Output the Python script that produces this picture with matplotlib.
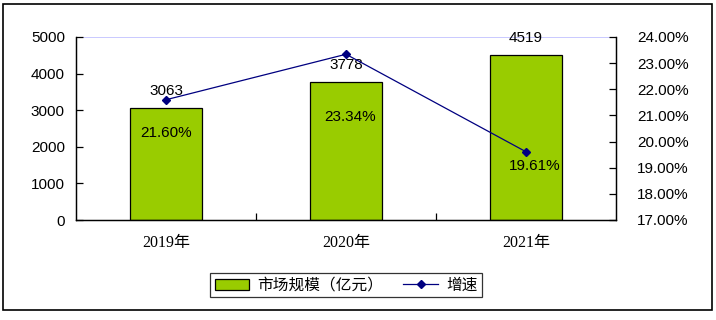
import matplotlib
matplotlib.use('Agg')
import matplotlib.pyplot as plt
from matplotlib.patches import Rectangle
import numpy as np

plt.rcParams['font.family'] = ['Liberation Sans', 'Noto Sans CJK SC']

years = ["2019年", "2020年", "2021年"]
market = [3063, 3778, 4519]
growth = [21.60, 23.34, 19.61]

# label offsets (points) for the growth labels, as placed in the original
growth_offsets = [(0, -24), (3, -45), (6, -10)]

fig = plt.figure(figsize=(7.16, 3.2), dpi=100)
ax = fig.add_axes([76 / 716, 100 / 320, 540 / 716, 183 / 320])
ax2 = ax.twinx()

x = np.arange(len(years))
bars = ax.bar(x, market, width=0.4, color='#99CC00', edgecolor='black', lw=0.9,
              label="市场规模（亿元）", zorder=2)
ax.set_xlim(-0.5, 2.5)
ax.set_ylim(0, 5000)
ax.set_yticks(np.arange(0, 5001, 1000))
ax.axhline(5000, color='#C0C0FF', lw=1.2, zorder=1)
ax.set_xticks(x)
ax.set_xticklabels(years, family=['Liberation Serif', 'Noto Sans CJK SC'], fontsize=11.5)
ax.set_xticks([0.5, 1.5], minor=True)
ax.tick_params(axis='x', which='major', length=0, pad=11)
ax.tick_params(axis='x', which='minor', direction='in', length=5, width=0.9)
ax.tick_params(axis='y', direction='in', length=5, width=0.9, labelsize=11, pad=8)

for xi, v in zip(x, market):
    ax.annotate(str(v), (xi, v), xytext=(0, 12), textcoords='offset points',
                ha='center', va='center', fontsize=11)

line, = ax2.plot(x, growth, color='#000080', lw=0.9, marker='D', ms=4.5,
                 label="增速", zorder=3)
ax2.set_ylim(17, 24)
ax2.set_yticks(np.arange(17, 24.01, 1))
ax2.set_yticklabels(["%.2f%%" % t for t in np.arange(17, 24.01, 1)])
ax2.tick_params(axis='y', direction='in', length=5, width=0.9, labelsize=11, pad=15)

for xi, g, off in zip(x, growth, growth_offsets):
    ax2.annotate("%.2f%%" % g, (xi, g), xytext=off, textcoords='offset points',
                 ha='center', va='center', fontsize=11)

for a in (ax, ax2):
    a.spines['top'].set_visible(False)
    for s in ('left', 'right', 'bottom'):
        a.spines[s].set_linewidth(0.9)

leg = fig.legend(handles=[bars, line], loc='center', bbox_to_anchor=(346 / 716, 35 / 320),
                 ncol=2, frameon=True, fancybox=False, edgecolor='black', fontsize=11.3,
                 handlelength=2.2, columnspacing=1.3, borderpad=0.3, handletextpad=0.5)
leg.get_frame().set_linewidth(0.9)

fig.patches.append(Rectangle((3 / 716, 10 / 320), 709 / 716, 306 / 320,
                             transform=fig.transFigure, fill=False,
                             edgecolor='black', lw=1.2))

plt.savefig('out.png', dpi=100)
